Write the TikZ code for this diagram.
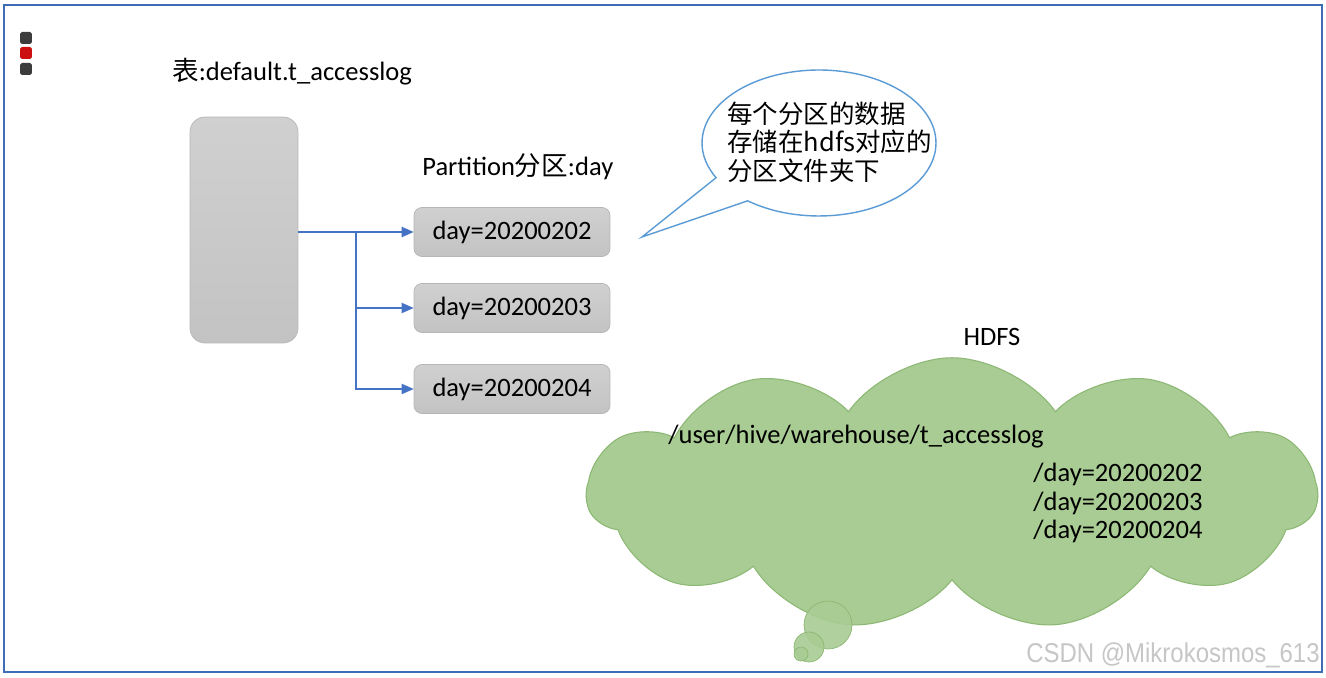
\documentclass[tikz,border=0pt]{standalone}
\usepackage{fontspec}
\setmainfont{Carlito}
\newfontfamily\cjk{Noto Sans CJK SC}
\newfontfamily\wmfont{Liberation Sans}
\usetikzlibrary{arrows.meta,shapes.symbols,shapes.callouts}

\definecolor{frameblue}{HTML}{3F6DB5}
\definecolor{arrowblue}{HTML}{4472C4}
\definecolor{bubbleblue}{HTML}{5B9BD5}
\definecolor{boxtop}{HTML}{D0D0D0}
\definecolor{boxbottom}{HTML}{C3C3C3}
\definecolor{boxedge}{HTML}{B6B6B6}
\definecolor{cloudgreen}{HTML}{A8CC93}
\definecolor{cloudedge}{HTML}{8CB874}
\definecolor{markgray}{HTML}{3C3C3C}
\definecolor{markred}{HTML}{CC1010}

\begin{document}
\begin{tikzpicture}[
        x=0.02cm, y=-0.02cm,
        txt/.style={font=\fontsize{15.1}{18}\selectfont, inner sep=0pt},
        partbox/.style={rectangle, draw=boxedge, top color=boxtop, bottom color=boxbottom, rounded corners=4.5pt, minimum width=3.92cm, minimum height=0.98cm, font=\fontsize{15.1}{18}\selectfont},
        slidemark/.style={rectangle, rounded corners=1pt, minimum size=0.24cm, inner sep=0pt},
        arrow/.style={-{Triangle[length=6.8pt,width=5.8pt]}, draw=arrowblue, line width=0.7pt},
        puff/.style={circle, draw=cloudedge, fill=cloudgreen, fill opacity=0.9, inner sep=0pt}
    ]
    \useasboundingbox (0,0) rectangle (1326,678);
    \fill[white] (0,0) rectangle (1326,678);
    \draw[frameblue, line width=1.4pt] (4,5) rectangle (1322,672);

    % slide markers
    \node[slidemark, fill=markgray] (m1) at (26,38) {};
    \node[slidemark, fill=markred] (m2) at (26,53) {};
    \node[slidemark, fill=markgray] (m3) at (26,69) {};

    % table
    \node[txt, anchor=west] (title) at (172,72) {{\cjk 表}:default.t\_accesslog};
    \node[rectangle, draw=boxedge, top color=boxtop, bottom color=boxbottom, rounded corners=8.5pt, minimum width=2.16cm, minimum height=4.52cm] (tbl) at (244,230) {};

    % partitions
    \node[txt, anchor=west] (part) at (422,167) {Partition{\cjk 分区}:day};
    \node[partbox] (d0202) at (512,232) {day=20200202};
    \node[partbox] (d0203) at (512,308) {day=20200203};
    \node[partbox] (d0204) at (512,389) {day=20200204};

    \coordinate (fork) at (356,232);
    \draw[arrow] (tbl.east |- d0202.west) -- (d0202.west);
    \draw[arrow] (fork) |- (d0203.west);
    \draw[arrow] (fork) |- (d0204.west);

    % note bubble
    \node[ellipse callout, draw=bubbleblue, fill=white, line width=0.8pt, minimum width=4.68cm, minimum height=2.92cm, callout absolute pointer={(642,237)}, callout pointer arc=24, inner sep=0pt] (note) at (819,143) {};
    \node[anchor=west, align=left, font=\cjk\fontsize{14.5}{16.2}\selectfont, inner sep=0pt] (notetext) at (727,142) {每个分区的数据\\存储在hdfs对应的\\分区文件夹下};

    % hdfs cloud
    \node[txt] (hdfs) at (992,337) {HDFS};
    \node[cloud, cloud puffs=11, cloud puff arc=110, aspect=2.8, draw=cloudedge, fill=cloudgreen, line width=0.6pt, minimum width=14.6cm, minimum height=5.45cm, inner sep=0pt] (cloud) at (952,494) {};
    \node[puff, minimum size=0.96cm] (t1) at (828,625) {};
    \node[puff, minimum size=0.6cm] (t2) at (809,647) {};
    \node[puff, minimum size=0.28cm] (t3) at (801,654) {};
    \node[txt, anchor=west] (path) at (668,437) {/user/hive/warehouse/t\_accesslog};
    \node[txt, anchor=west, align=left, font=\fontsize{15.1}{16.4}\selectfont] (days) at (1033,503) {/day=20200202\\/day=20200203\\/day=20200204};

    % watermark
    \node[anchor=east, inner sep=0pt, text=gray!45, font=\wmfont\fontsize{15.5}{18}\selectfont, xscale=0.88] (wm) at (1320,655) {CSDN @Mikrokosmos\_613};
\end{tikzpicture}
\end{document}
